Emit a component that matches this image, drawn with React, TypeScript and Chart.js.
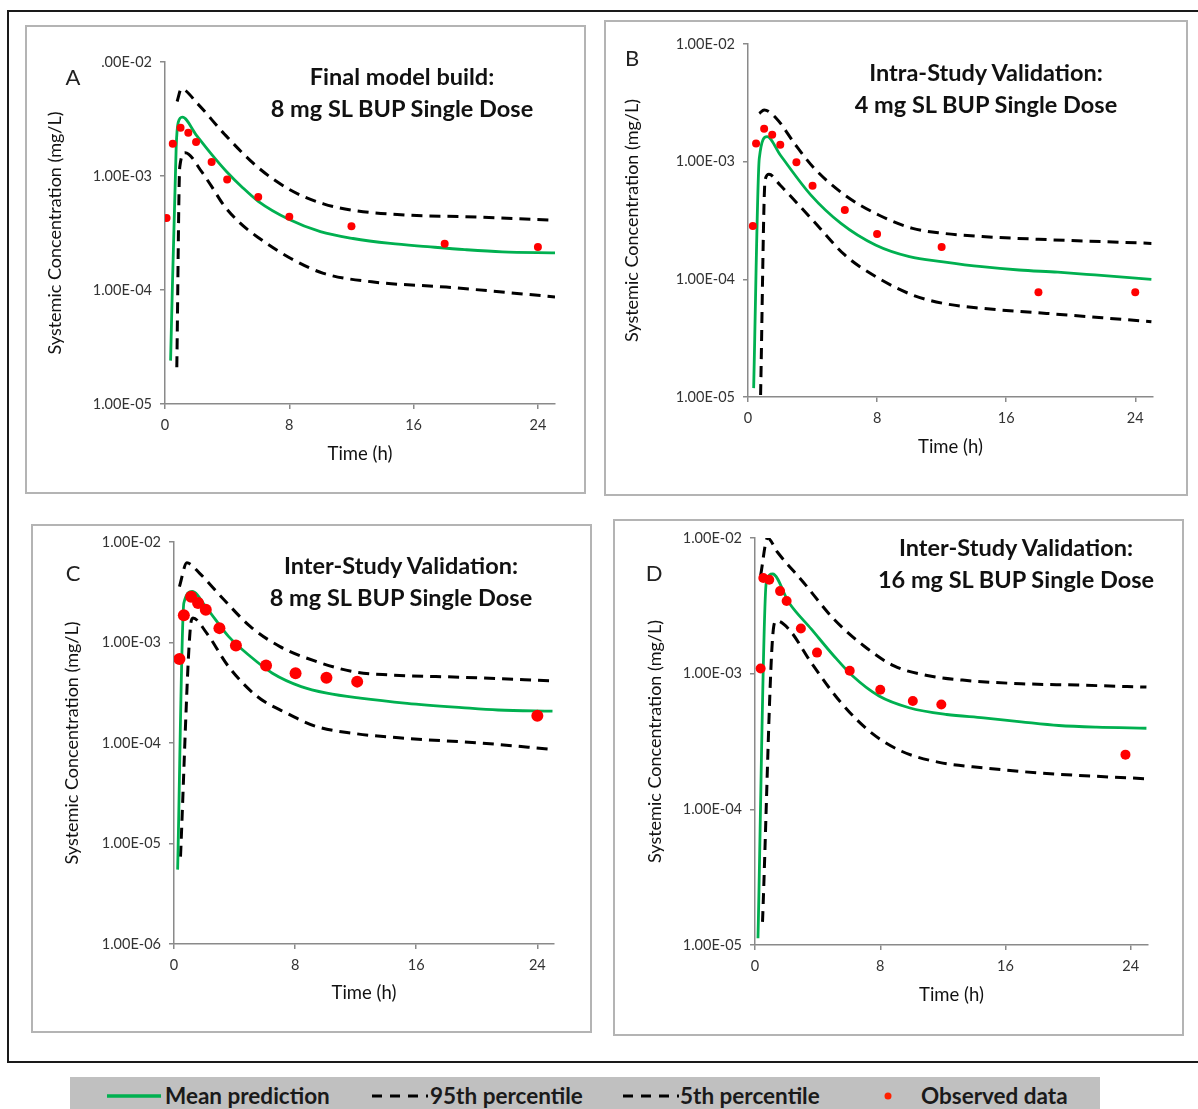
import React, { useEffect, useRef } from "react";
import { Chart, registerables } from "chart.js";

Chart.register(...registerables);

// ---------------- Data ----------------
const xTickValues = [0, 8, 16, 24];
const xTickLabels = ["0", "8", "16", "24"];

const yTicksABD = [1e-5, 1e-4, 1e-3, 1e-2];
const yLabelsA = ["1.00E-05", "1.00E-04", "1.00E-03", ".00E-02"];
const yLabelsBD = ["1.00E-05", "1.00E-04", "1.00E-03", "1.00E-02"];
const yTicksC = [1e-6, 1e-5, 1e-4, 1e-3, 1e-2];
const yLabelsC = ["1.00E-06", "1.00E-05", "1.00E-04", "1.00E-03", "1.00E-02"];

// Panel A: Final model build, 8 mg
const aMeanT = [0.36, 0.72, 0.85, 1.12, 2.0, 3.0, 4.0, 5.0, 6.0, 8.0, 10.0, 12.1, 14.5, 16.9, 19.3, 21.7, 25.1];
const aMean = [2.4e-5, 1.8e-3, 2.95e-3, 3.28e-3, 2.3e-3, 1.55e-3, 1.08e-3, 7.9e-4, 6.0e-4, 4.15e-4, 3.25e-4, 2.83e-4, 2.56e-4, 2.4e-4, 2.26e-4, 2.16e-4, 2.12e-4];
const aP95T = [0.78, 1.05, 2.1, 3.8, 5.95, 8.1, 10.2, 12.1, 15.7, 19.3, 25.1];
const aP95 = [4.5e-3, 5.8e-3, 4.3e-3, 2.35e-3, 1.2e-3, 7.5e-4, 5.7e-4, 5.0e-4, 4.53e-4, 4.4e-4, 4.1e-4];
const aP5T = [0.76, 0.95, 1.3, 2.38, 3.0, 3.8, 4.8, 5.95, 8.1, 10.2, 13.3, 18.1, 25.1];
const aP5 = [2.1e-5, 1.2e-3, 1.6e-3, 1.08e-3, 8.1e-4, 5.5e-4, 3.9e-4, 2.92e-4, 1.89e-4, 1.4e-4, 1.18e-4, 1.06e-4, 8.7e-5];
const aObsT = [0.1, 0.5, 1, 1.5, 2, 3, 4, 6, 8, 12, 18, 24];
const aObs = [4.28e-4, 1.92e-3, 2.65e-3, 2.4e-3, 1.99e-3, 1.33e-3, 9.3e-4, 6.55e-4, 4.4e-4, 3.63e-4, 2.54e-4, 2.38e-4];

// Panel B: Intra-study validation, 4 mg
const bMeanT = [0.35, 0.7, 1.18, 2.0, 3.9, 5.76, 7.9, 10.0, 12.1, 14.5, 16.8, 19.2, 21.5, 25.0];
const bMean = [1.19e-5, 1.07e-3, 1.63e-3, 1.14e-3, 5.2e-4, 2.99e-4, 1.96e-4, 1.56e-4, 1.41e-4, 1.28e-4, 1.2e-4, 1.15e-4, 1.09e-4, 1.0e-4];
const bP95T = [0.7, 1.0, 1.76, 2.94, 4.1, 6.0, 8.1, 10.2, 12.1, 14.5, 18.0, 25.0];
const bP95 = [2.57e-3, 2.75e-3, 2.33e-3, 1.39e-3, 8.8e-4, 5.2e-4, 3.52e-4, 2.71e-4, 2.46e-4, 2.31e-4, 2.19e-4, 2.02e-4];
const bP5T = [0.78, 1.06, 1.3, 2.0, 3.0, 4.1, 6.0, 8.1, 10.2, 12.1, 14.5, 18.0, 25.0];
const bP5 = [1.04e-5, 7.0e-4, 7.8e-4, 6.3e-4, 4.5e-4, 3.09e-4, 1.61e-4, 1.02e-4, 7.36e-5, 6.25e-5, 5.67e-5, 5.2e-5, 4.37e-5];
const bObsT = [0.3, 0.5, 1, 1.5, 2, 3, 4, 6, 8, 12, 18, 24];
const bObs = [2.84e-4, 1.43e-3, 1.9e-3, 1.69e-3, 1.39e-3, 9.9e-4, 6.25e-4, 3.89e-4, 2.43e-4, 1.88e-4, 7.76e-5, 7.76e-5];

// Panel C: Inter-study validation, 8 mg
const cMeanT = [0.24, 0.65, 1.2, 2.16, 3.6, 5.05, 6.5, 8.4, 10.1, 12.3, 15.4, 19.0, 21.4, 25.0];
const cMean = [5.5e-6, 2.47e-3, 3.22e-3, 2.2e-3, 1.15e-3, 7.25e-4, 4.95e-4, 3.64e-4, 3.13e-4, 2.79e-4, 2.48e-4, 2.25e-4, 2.13e-4, 2.08e-4];
const cP95T = [0.36, 0.85, 1.68, 3.1, 5.05, 7.0, 9.4, 11.8, 14.2, 19.0, 25.0];
const cP95 = [3.6e-3, 6.2e-3, 4.9e-3, 2.87e-3, 1.44e-3, 9.1e-4, 6.47e-4, 5.14e-4, 4.76e-4, 4.51e-4, 4.15e-4];
const cP5T = [0.43, 1.08, 1.25, 2.16, 3.6, 5.5, 7.45, 9.4, 11.8, 15.4, 20.2, 25.0];
const cP5 = [7.4e-6, 1.4e-3, 1.75e-3, 1.24e-3, 5.77e-4, 2.9e-4, 1.98e-4, 1.46e-4, 1.25e-4, 1.11e-4, 1.0e-4, 8.65e-5];
const cObsT = [0.36, 0.65, 1.13, 1.59, 2.1, 3, 4.09, 6.08, 8.03, 10.07, 12.1, 24];
const cObs = [6.87e-4, 1.87e-3, 2.85e-3, 2.47e-3, 2.12e-3, 1.39e-3, 9.33e-4, 5.9e-4, 4.95e-4, 4.45e-4, 4.08e-4, 1.87e-4];

// Panel D: Inter-study validation, 16 mg
const dMeanT = [0.19, 0.72, 1.13, 2.16, 3.6, 5.04, 6.24, 7.92, 9.84, 12.24, 14.6, 17.0, 19.4, 21.8, 25.0];
const dMean = [1.12e-5, 4.7e-3, 5.43e-3, 3.35e-3, 2.13e-3, 1.35e-3, 9.6e-4, 6.84e-4, 5.61e-4, 5.0e-4, 4.73e-4, 4.42e-4, 4.15e-4, 4.03e-4, 3.96e-4];
const dP95T = [0.36, 0.8, 1.44, 3.1, 5.04, 6.96, 8.88, 11.0, 13.4, 17.0, 20.6, 25.0];
const dP95 = [5.3e-3, 1.0e-2, 7.85e-3, 4.7e-3, 2.52e-3, 1.6e-3, 1.14e-3, 9.7e-4, 8.93e-4, 8.43e-4, 8.24e-4, 7.96e-4];
const dP5T = [0.48, 1.2, 1.37, 2.16, 3.6, 5.5, 7.44, 9.36, 11.76, 14.64, 18.24, 25.0];
const dP5 = [1.48e-5, 2.25e-3, 2.45e-3, 2.13e-3, 1.2e-3, 6.1e-4, 3.66e-4, 2.68e-4, 2.22e-4, 2.02e-4, 1.85e-4, 1.68e-4];
const dObsT = [0.36, 0.53, 0.91, 1.6, 2.02, 2.93, 3.96, 6.05, 8, 10.08, 11.9, 23.66];
const dObs = [1.09e-3, 5.07e-3, 4.93e-3, 4.06e-3, 3.43e-3, 2.15e-3, 1.43e-3, 1.05e-3, 7.6e-4, 6.28e-4, 5.93e-4, 2.53e-4];

const legendLabels = ["Mean prediction", "95th percentile", "5th percentile", "Observed data"];

// ---------------- Styling ----------------
const FONT = "Lato, Carlito, 'Open Sans', sans-serif";
const GREEN = "#00b050";
const AXIS = "#8a8a8a";
const TICK_SIZE = 14.5;
const YTITLE_SIZE = 18;
const XTITLE_SIZE = 18.5;
const PANEL_TITLE_SIZE = 23.5;

type Panel = {
  left: number; top: number; width: number; height: number;
  plotLeft: number; plotRight: number; plotTop: number; plotBottom: number;
  yMin: number; yTicks: number[]; yLabels: string[];
  yTitleX: number; xTitleFromBottom: number;
  letter: string; letterX: number; letterY: number;
  title1: string; title2: string; titleX: number; titleY1: number; titleY2: number;
  meanT: number[]; mean: number[]; p95T: number[]; p95: number[]; p5T: number[]; p5: number[];
  obsT: number[]; obs: number[]; radius: number;
};

const panels: Panel[] = [
  {
    left: 25, top: 25, width: 561, height: 469,
    plotLeft: 140, plotRight: 530, plotTop: 37, plotBottom: 379,
    yMin: 1e-5, yTicks: yTicksABD, yLabels: yLabelsA,
    yTitleX: 30, xTitleFromBottom: 40,
    letter: "A", letterX: 48, letterY: 52,
    title1: "Final model build:", title2: "8 mg SL BUP Single Dose", titleX: 377, titleY1: 52, titleY2: 84,
    meanT: aMeanT, mean: aMean, p95T: aP95T, p95: aP95, p5T: aP5T, p5: aP5, obsT: aObsT, obs: aObs, radius: 4,
  },
  {
    left: 604, top: 20, width: 584, height: 476,
    plotLeft: 144, plotRight: 549, plotTop: 24, plotBottom: 377,
    yMin: 1e-5, yTicks: yTicksABD, yLabels: yLabelsBD,
    yTitleX: 28, xTitleFromBottom: 49,
    letter: "B", letterX: 28, letterY: 38,
    title1: "Intra-Study Validation:", title2: "4 mg SL BUP Single Dose", titleX: 382, titleY1: 53, titleY2: 85,
    meanT: bMeanT, mean: bMean, p95T: bP95T, p95: bP95, p5T: bP5T, p5: bP5, obsT: bObsT, obs: bObs, radius: 4,
  },
  {
    left: 31, top: 524, width: 561, height: 509,
    plotLeft: 143, plotRight: 523, plotTop: 18, plotBottom: 420,
    yMin: 1e-6, yTicks: yTicksC, yLabels: yLabelsC,
    yTitleX: 41, xTitleFromBottom: 40,
    letter: "C", letterX: 42, letterY: 49,
    title1: "Inter-Study Validation:", title2: "8 mg SL BUP Single Dose", titleX: 370, titleY1: 42, titleY2: 74,
    meanT: cMeanT, mean: cMean, p95T: cP95T, p95: cP95, p5T: cP5T, p5: cP5, obsT: cObsT, obs: cObs, radius: 6,
  },
  {
    left: 613, top: 519, width: 571, height: 517,
    plotLeft: 142, plotRight: 535, plotTop: 19, plotBottom: 426,
    yMin: 1e-5, yTicks: yTicksABD, yLabels: yLabelsBD,
    yTitleX: 42, xTitleFromBottom: 41,
    letter: "D", letterX: 41, letterY: 54,
    title1: "Inter-Study Validation:", title2: "16 mg SL BUP Single Dose", titleX: 403, titleY1: 29, titleY2: 61,
    meanT: dMeanT, mean: dMean, p95T: dP95T, p95: dP95, p5T: dP5T, p5: dP5, obsT: dObsT, obs: dObs, radius: 5,
  },
];

const pts = (t: number[], v: number[]) => t.map((x, i) => ({ x, y: v[i] }));

function PanelChart({ p }: { p: Panel }) {
  const ref = useRef<HTMLCanvasElement | null>(null);
  useEffect(() => {
    if (!ref.current) return;
    const chart = new Chart(ref.current, {
      type: "line",
      data: {
        datasets: [
          {
            label: "Observed data",
            data: pts(p.obsT, p.obs),
            showLine: false,
            pointRadius: p.radius,
            pointBackgroundColor: "#ff0000",
            pointBorderWidth: 0,
            borderColor: "#ff0000",
            backgroundColor: "#ff0000",
          },
          {
            label: "Mean prediction",
            data: pts(p.meanT, p.mean),
            borderColor: GREEN,
            borderWidth: 2.8,
            pointRadius: 0,
            cubicInterpolationMode: "monotone",
            fill: false,
          },
          {
            label: "95th percentile",
            data: pts(p.p95T, p.p95),
            borderColor: "#000000",
            borderWidth: 3,
            borderDash: [11, 7],
            pointRadius: 0,
            cubicInterpolationMode: "monotone",
            fill: false,
          },
          {
            label: "5th percentile",
            data: pts(p.p5T, p.p5),
            borderColor: "#000000",
            borderWidth: 3,
            borderDash: [11, 7],
            pointRadius: 0,
            cubicInterpolationMode: "monotone",
            fill: false,
          },
        ],
      },
      options: {
        responsive: false,
        animation: false,
        events: [],
        layout: { padding: { left: 0, top: p.plotTop, right: p.width - p.plotRight, bottom: 0 } },
        plugins: { legend: { display: false }, tooltip: { enabled: false }, title: { display: false } },
        scales: {
          x: {
            type: "linear",
            position: "bottom",
            min: 0,
            max: 25.1,
            afterBuildTicks: (s: any) => {
              s.ticks = xTickValues.map((v) => ({ value: v }));
            },
            afterFit: (s: any) => {
              s.height = p.height - p.plotBottom;
            },
            ticks: {
              autoSkip: false,
              maxRotation: 0,
              padding: 8,
              color: "#333333",
              font: { family: FONT, size: TICK_SIZE },
              callback: (v: any) => {
                const i = xTickValues.indexOf(Number(v));
                return i >= 0 ? xTickLabels[i] : "";
              },
            },
            grid: { drawOnChartArea: false, drawTicks: true, tickLength: 5, color: AXIS, lineWidth: 1.5 },
            border: { display: true, color: AXIS, width: 1.5 },
            title: {
              display: true,
              text: "Time (h)",
              color: "#111111",
              font: { family: FONT, size: XTITLE_SIZE },
              padding: { top: 0, bottom: p.xTitleFromBottom - (XTITLE_SIZE * 1.2) / 2 },
            },
          },
          y: {
            type: "logarithmic",
            position: "left",
            min: p.yMin,
            max: 1e-2,
            afterBuildTicks: (s: any) => {
              s.ticks = p.yTicks.map((v) => ({ value: v }));
            },
            afterFit: (s: any) => {
              s.width = p.plotLeft;
            },
            ticks: {
              autoSkip: false,
              padding: 8,
              color: "#333333",
              font: { family: FONT, size: TICK_SIZE },
              callback: (v: any) => {
                const val = Number(v);
                const i = p.yTicks.findIndex((t) => Math.abs(Math.log10(t) - Math.log10(val)) < 1e-6);
                return i >= 0 ? p.yLabels[i] : "";
              },
            },
            grid: { drawOnChartArea: false, drawTicks: true, tickLength: 5, color: AXIS, lineWidth: 1.5 },
            border: { display: true, color: AXIS, width: 1.5 },
            title: {
              display: true,
              text: "Systemic Concentration (mg/L)",
              color: "#111111",
              font: { family: FONT, size: YTITLE_SIZE },
              padding: { top: p.yTitleX - (YTITLE_SIZE * 1.2) / 2, bottom: 0 },
            },
          },
        },
      } as any,
    });
    return () => chart.destroy();
  }, [p]);

  const textBase: React.CSSProperties = {
    position: "absolute",
    transform: "translate(-50%, -50%)",
    whiteSpace: "nowrap",
    lineHeight: 1,
    fontFamily: FONT,
    color: "#111",
  };

  return (
    <div style={{ position: "absolute", left: p.left, top: p.top, width: p.width, height: p.height }}>
      <canvas ref={ref} width={p.width} height={p.height} style={{ position: "absolute", left: 0, top: 0 }} />
      <div
        style={{
          position: "absolute",
          left: 0,
          top: 0,
          width: p.width,
          height: p.height,
          boxSizing: "border-box",
          border: "2px solid #b4b4b4",
          pointerEvents: "none",
        }}
      />
      <div style={{ ...textBase, left: p.letterX, top: p.letterY, fontSize: 22, color: "#222" }}>{p.letter}</div>
      <div style={{ ...textBase, left: p.titleX, top: p.titleY1, fontSize: PANEL_TITLE_SIZE, fontWeight: 700 }}>{p.title1}</div>
      <div style={{ ...textBase, left: p.titleX, top: p.titleY2, fontSize: PANEL_TITLE_SIZE, fontWeight: 700 }}>{p.title2}</div>
    </div>
  );
}

function Legend() {
  const txt: React.CSSProperties = {
    position: "absolute",
    top: 19,
    transform: "translateY(-50%)",
    fontFamily: FONT,
    fontWeight: 700,
    fontSize: 22.5,
    lineHeight: 1,
    color: "#1a1a1a",
    whiteSpace: "nowrap",
  };
  return (
    <div style={{ position: "absolute", left: 70, top: 1077, width: 1030, height: 32, background: "#c0c0c0" }}>
      <svg width={1030} height={32} style={{ position: "absolute", left: 0, top: 0 }}>
        <line x1={37} y1={19} x2={91} y2={19} stroke={GREEN} strokeWidth={3.5} />
        <line x1={302} y1={19} x2={358} y2={19} stroke="#000" strokeWidth={3} strokeDasharray="10 8" />
        <line x1={553} y1={19} x2={609} y2={19} stroke="#000" strokeWidth={3} strokeDasharray="10 8" />
        <circle cx={818} cy={19} r={3.5} fill="#ff2000" />
      </svg>
      <div style={{ ...txt, left: 95 }}>{legendLabels[0]}</div>
      <div style={{ ...txt, left: 360 }}>{legendLabels[1]}</div>
      <div style={{ ...txt, left: 610 }}>{legendLabels[2]}</div>
      <div style={{ ...txt, left: 851 }}>{legendLabels[3]}</div>
    </div>
  );
}

export default function App() {
  return (
    <div style={{ position: "absolute", left: 0, top: 0, width: 1198, height: 1109, background: "#fff", overflow: "hidden" }}>
      <div
        style={{
          position: "absolute",
          left: 7,
          top: 10,
          width: 1210,
          height: 1053,
          boxSizing: "border-box",
          border: "2px solid #1a1a1a",
        }}
      />
      {panels.map((p, i) => (
        <PanelChart key={i} p={p} />
      ))}
      <Legend />
    </div>
  );
}
